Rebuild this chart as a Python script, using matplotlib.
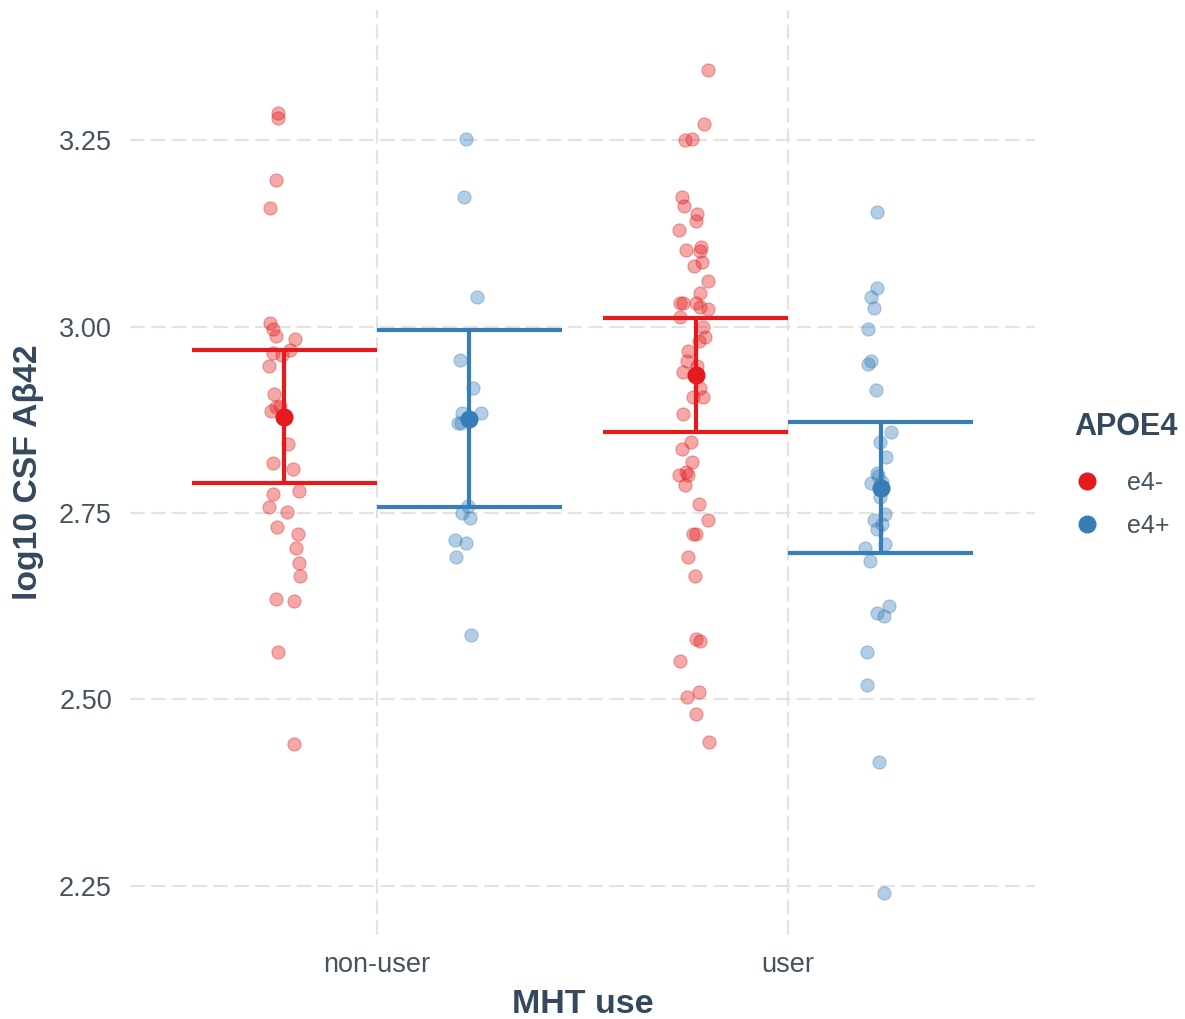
import matplotlib
matplotlib.use("Agg")
import matplotlib.pyplot as plt
from matplotlib.lines import Line2D

plt.rcParams['font.family'] = ['Liberation Sans', 'DejaVu Sans']

groups = ["non-user", "user"]
apoe = ["e4-", "e4+"]
colors = {"e4-": "#E41A1C", "e4+": "#377EB8"}

# log10 CSF Abeta42 per participant, with small horizontal jitter per point
nonuser_neg = [3.286, 3.279, 3.196, 3.159, 3.005, 2.996, 2.987, 2.983, 2.965, 2.962,
               2.969, 2.947, 2.910, 2.887, 2.892, 2.893, 2.843, 2.817, 2.809, 2.776,
               2.780, 2.758, 2.752, 2.731, 2.722, 2.703, 2.683, 2.665, 2.635, 2.632,
               2.564, 2.440]
nonuser_neg_jit = [-0.016, -0.015, -0.020, -0.034, -0.035, -0.027, -0.019, 0.026, -0.027, -0.006,
                   0.015, -0.036, -0.026, -0.032, -0.020, -0.011, 0.008, -0.027, 0.021, -0.028,
                   0.036, -0.036, 0.006, -0.018, 0.033, 0.028, 0.036, 0.038, -0.020, 0.024,
                   -0.015, 0.024]

nonuser_pos = [3.251, 3.174, 3.039, 2.955, 2.918, 2.884, 2.884, 2.871, 2.871, 2.759,
               2.750, 2.743, 2.714, 2.710, 2.691, 2.587]
nonuser_pos_jit = [-0.007, -0.014, 0.018, -0.024, 0.010, -0.017, 0.029, -0.028, -0.021, -0.003,
                   -0.017, 0.002, -0.036, -0.009, -0.032, 0.005]

user_neg = [3.344, 3.272, 3.250, 3.251, 3.173, 3.161, 3.151, 3.141, 3.129, 3.107,
            3.103, 3.101, 3.086, 3.081, 3.061, 3.045, 3.031, 3.031, 3.032, 3.026,
            3.024, 3.013, 2.999, 2.986, 2.981, 2.967, 2.954, 2.947, 2.939, 2.918,
            2.905, 2.906, 2.883, 2.845, 2.836, 2.818, 2.805, 2.801, 2.801, 2.787,
            2.762, 2.740, 2.722, 2.722, 2.691, 2.666, 2.581, 2.579, 2.551, 2.510,
            2.503, 2.480, 2.443]
user_neg_jit = [0.030, 0.020, -0.027, -0.009, -0.033, -0.029, 0.004, 0.001, -0.040, 0.014,
                -0.024, 0.011, 0.016, -0.005, 0.029, 0.010, -0.037, -0.030, 0.001, 0.011,
                0.031, -0.037, 0.017, 0.023, 0.008, -0.018, -0.021, 0.003, -0.031, 0.010,
                -0.006, 0.017, -0.031, -0.011, -0.032, -0.009, -0.023, -0.041, -0.018, -0.027,
                0.008, 0.031, -0.006, 0.000, -0.019, -0.001, 0.001, 0.011, -0.038, 0.008,
                -0.021, 0.001, 0.033]

user_pos = [3.153, 3.051, 3.039, 3.025, 2.997, 2.954, 2.950, 2.915, 2.858, 2.845,
            2.825, 2.803, 2.800, 2.790, 2.792, 2.772, 2.749, 2.741, 2.735, 2.728,
            2.708, 2.703, 2.686, 2.625, 2.616, 2.612, 2.564, 2.520, 2.416, 2.240]
user_pos_jit = [-0.009, -0.010, -0.024, -0.016, -0.032, -0.024, -0.031, -0.011, 0.025, -0.002,
                0.012, -0.009, -0.007, -0.024, 0.002, -0.002, 0.010, -0.016, 0.002, -0.008,
                0.010, -0.038, -0.026, 0.020, -0.010, 0.009, -0.033, -0.033, -0.004, 0.007]

# estimated means and interval limits, order: (non-user e4-, non-user e4+, user e4-, user e4+)
est_mean = [2.879, 2.876, 2.935, 2.783]
est_lower = [2.790, 2.758, 2.858, 2.696]
est_upper = [2.969, 2.995, 3.012, 2.872]

raw = [(nonuser_neg, nonuser_neg_jit), (nonuser_pos, nonuser_pos_jit),
       (user_neg, user_neg_jit), (user_pos, user_pos_jit)]

dodge = 0.225
cap = 0.225

fig = plt.figure(figsize=(11.85, 10.19), dpi=100)
ax = fig.add_axes([130 / 1185, 1 - 935 / 1019, 905 / 1185, 925 / 1019])

k = 0
for gi, g in enumerate(groups):
    for ai, a in enumerate(apoe):
        xc = gi + 1 + (-dodge if ai == 0 else dodge)
        vals, jit = raw[k]
        col = colors[a]
        ax.scatter([xc + j for j in jit], vals, s=90, color=col, alpha=0.38,
                   edgecolors=col, linewidths=0.8, zorder=3)
        ax.vlines(xc, est_lower[k], est_upper[k], color=col, lw=3.0, zorder=4)
        ax.hlines([est_lower[k], est_upper[k]], xc - cap, xc + cap, color=col, lw=3.0, zorder=4)
        ax.scatter([xc], [est_mean[k]], s=170, color=col, zorder=5, linewidths=0)
        k += 1

ax.set_xlim(0.4, 2.6)
ax.set_ylim(2.1843, 3.4243)
ax.set_xticks([1, 2])
ax.set_xticklabels(groups)
ax.set_yticks([2.25, 2.50, 2.75, 3.00, 3.25])
ax.set_yticklabels(["2.25", "2.50", "2.75", "3.00", "3.25"])

for s in ax.spines.values():
    s.set_visible(False)
ax.tick_params(length=0, labelsize=19.5, labelcolor="#45535f")
ax.tick_params(axis='y', pad=13)
ax.tick_params(axis='x', pad=12)
ax.grid(True, color="#e3e3e3", lw=1.5, linestyle=(0, (7, 3)), zorder=0)
ax.set_axisbelow(True)

ax.set_xlabel("MHT use", fontsize=24.5, fontweight="bold", color="#34495e", labelpad=8)
ax.set_ylabel("log10 CSF Aβ42", fontsize=24.3, fontweight="bold", color="#34495e", labelpad=11)

handles = [Line2D([], [], marker="o", ls="", color=colors[a], markersize=12) for a in apoe]
leg = fig.legend(handles, apoe, title="APOE4", loc="center left",
                 bbox_to_anchor=(1052 / 1185, 1 - 475 / 1019), frameon=False,
                 fontsize=18, title_fontproperties={"weight": "bold", "size": 22},
                 handlelength=1.0, handletextpad=1.1, labelspacing=0.75, alignment="left")
leg._legend_box.sep = 21
leg.get_title().set_color("#34495e")
for t in leg.get_texts():
    t.set_color("#45535f")

fig.savefig("out.png", dpi=100, facecolor="white")
